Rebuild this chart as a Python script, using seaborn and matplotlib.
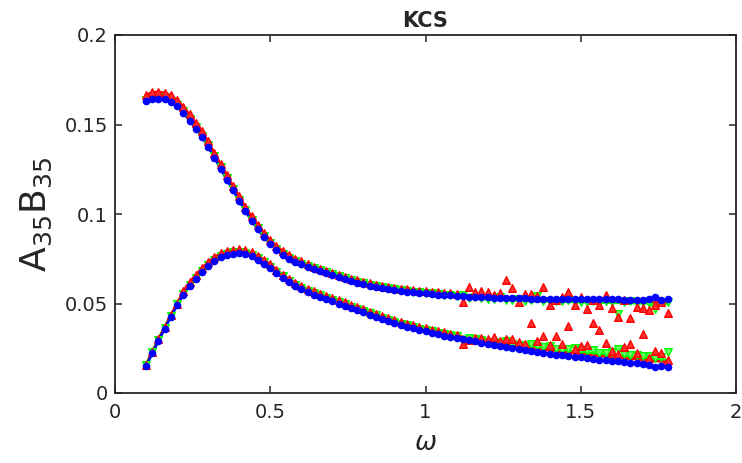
import matplotlib
matplotlib.use("Agg")
import matplotlib.pyplot as plt
import seaborn as sns
import numpy as np

# ---------------- data ----------------
omega = [0.10, 0.12, 0.14, 0.16, 0.18, 0.20, 0.22, 0.24, 0.26, 0.28,
         0.30, 0.32, 0.34, 0.36, 0.38, 0.40, 0.42, 0.44, 0.46, 0.48,
         0.50, 0.52, 0.54, 0.56, 0.58, 0.60, 0.62, 0.64, 0.66, 0.68,
         0.70, 0.72, 0.74, 0.76, 0.78, 0.80, 0.82, 0.84, 0.86, 0.88,
         0.90, 0.92, 0.94, 0.96, 0.98, 1.00, 1.02, 1.04, 1.06, 1.08,
         1.10, 1.12, 1.14, 1.16, 1.18, 1.20, 1.22, 1.24, 1.26, 1.28,
         1.30, 1.32, 1.34, 1.36, 1.38, 1.40, 1.42, 1.44, 1.46, 1.48,
         1.50, 1.52, 1.54, 1.56, 1.58, 1.60, 1.62, 1.64, 1.66, 1.68,
         1.70, 1.72, 1.74, 1.76, 1.78]

# upper curve, three solutions
blue_upper = [0.1630, 0.1642, 0.1645, 0.1640, 0.1626, 0.1602, 0.1565, 0.1522, 0.1477, 0.1430,
              0.1375, 0.1315, 0.1253, 0.1192, 0.1133, 0.1073, 0.1015, 0.0963, 0.0915, 0.0870,
              0.0832, 0.0800, 0.0772, 0.0750, 0.0732, 0.0718, 0.0705, 0.0693, 0.0681, 0.0669,
              0.0658, 0.0646, 0.0635, 0.0625, 0.0616, 0.0607, 0.0600, 0.0593, 0.0587, 0.0581,
              0.0576, 0.0571, 0.0567, 0.0563, 0.0559, 0.0556, 0.0553, 0.0550, 0.0547, 0.0545,
              0.0543, 0.0541, 0.0539, 0.0537, 0.0535, 0.0534, 0.0533, 0.0532, 0.0531, 0.0530,
              0.0529, 0.0528, 0.0527, 0.0527, 0.0526, 0.0526, 0.0525, 0.0525, 0.0524, 0.0524,
              0.0524, 0.0523, 0.0523, 0.0523, 0.0523, 0.0523, 0.0523, 0.0522, 0.0522, 0.0522,
              0.0522, 0.0523, 0.0536, 0.0522, 0.0523]
green_upper = [0.1636, 0.1648, 0.1651, 0.1646, 0.1633, 0.1609, 0.1573, 0.1530, 0.1485, 0.1438,
               0.1383, 0.1323, 0.1261, 0.1200, 0.1140, 0.1080, 0.1022, 0.0969, 0.0921, 0.0876,
               0.0837, 0.0805, 0.0777, 0.0755, 0.0737, 0.0722, 0.0709, 0.0697, 0.0685, 0.0674,
               0.0663, 0.0651, 0.0640, 0.0630, 0.0621, 0.0612, 0.0605, 0.0598, 0.0592, 0.0586,
               0.0581, 0.0576, 0.0571, 0.0567, 0.0563, 0.0560, 0.0557, 0.0554, 0.0550, 0.0546,
               0.0542, 0.0538, 0.0534, 0.0531, 0.0528, 0.0526, 0.0524, 0.0523, 0.0522, 0.0520,
               0.0519, 0.0518, 0.0517, 0.0516, 0.0515, 0.0514, 0.0513, 0.0512, 0.0512, 0.0511,
               0.0510, 0.0510, 0.0509, 0.0508, 0.0508, 0.0507, 0.0506, 0.0506, 0.0505, 0.0505,
               0.0504, 0.0504, 0.0503, 0.0503, 0.0502]
red_upper = [0.1667, 0.1679, 0.1682, 0.1677, 0.1663, 0.1639, 0.1600, 0.1556, 0.1510, 0.1462,
             0.1406, 0.1342, 0.1279, 0.1218, 0.1158, 0.1098, 0.1040, 0.0987, 0.0939, 0.0893,
             0.0854, 0.0822, 0.0794, 0.0771, 0.0751, 0.0735, 0.0719, 0.0706, 0.0694, 0.0682,
             0.0671, 0.0659, 0.0648, 0.0638, 0.0629, 0.0620, 0.0613, 0.0606, 0.0600, 0.0594,
             0.0588, 0.0583, 0.0579, 0.0575, 0.0571, 0.0568, 0.0565, 0.0562, 0.0559, 0.0556,
             0.0553, 0.0548, 0.0545, 0.0542, 0.0539, 0.0537, 0.0535, 0.0533, 0.0531, 0.0529,
             0.0528, 0.0527, 0.0525, 0.0524, 0.0523, 0.0522, 0.0521, 0.0520, 0.0519, 0.0518,
             0.0517, 0.0516, 0.0515, 0.0515, 0.0514, 0.0513, 0.0512, 0.0511, 0.0510, 0.0510,
             0.0509, 0.0508, 0.0508, 0.0507, 0.0506]

# lower curve
blue_lower = [0.0150, 0.0222, 0.0292, 0.0360, 0.0426, 0.0490, 0.0548, 0.0598, 0.0638, 0.0675,
              0.0710, 0.0738, 0.0758, 0.0772, 0.0779, 0.0780, 0.0775, 0.0763, 0.0745, 0.0722,
              0.0697, 0.0670, 0.0644, 0.0620, 0.0598, 0.0580, 0.0564, 0.0550, 0.0537, 0.0524,
              0.0512, 0.0500, 0.0488, 0.0475, 0.0462, 0.0450, 0.0437, 0.0425, 0.0413, 0.0402,
              0.0391, 0.0380, 0.0370, 0.0361, 0.0352, 0.0344, 0.0336, 0.0328, 0.0321, 0.0314,
              0.0307, 0.0300, 0.0294, 0.0288, 0.0282, 0.0276, 0.0270, 0.0264, 0.0258, 0.0252,
              0.0246, 0.0240, 0.0234, 0.0229, 0.0224, 0.0219, 0.0215, 0.0211, 0.0207, 0.0203,
              0.0199, 0.0195, 0.0191, 0.0187, 0.0183, 0.0179, 0.0176, 0.0172, 0.0169, 0.0166,
              0.0162, 0.0159, 0.0145, 0.0153, 0.0148]
green_lower = [0.0154, 0.0227, 0.0297, 0.0365, 0.0431, 0.0495, 0.0553, 0.0603, 0.0643, 0.0680,
               0.0715, 0.0744, 0.0764, 0.0778, 0.0786, 0.0788, 0.0783, 0.0771, 0.0753, 0.0730,
               0.0705, 0.0678, 0.0652, 0.0628, 0.0606, 0.0588, 0.0572, 0.0558, 0.0545, 0.0532,
               0.0520, 0.0508, 0.0496, 0.0483, 0.0470, 0.0458, 0.0445, 0.0433, 0.0421, 0.0410,
               0.0399, 0.0388, 0.0378, 0.0369, 0.0360, 0.0352, 0.0344, 0.0336, 0.0329, 0.0322,
               0.0316, 0.0311, 0.0306, 0.0301, 0.0296, 0.0291, 0.0286, 0.0281, 0.0276, 0.0271,
               0.0266, 0.0261, 0.0256, 0.0252, 0.0248, 0.0244, 0.0240, 0.0236, 0.0233, 0.0229,
               0.0226, 0.0222, 0.0219, 0.0216, 0.0212, 0.0209, 0.0206, 0.0203, 0.0200, 0.0197,
               0.0194, 0.0191, 0.0188, 0.0185, 0.0182]
red_lower = [0.0156, 0.0228, 0.0299, 0.0368, 0.0435, 0.0500, 0.0570, 0.0620, 0.0660, 0.0697,
             0.0732, 0.0760, 0.0780, 0.0794, 0.0801, 0.0803, 0.0797, 0.0785, 0.0767, 0.0744,
             0.0719, 0.0688, 0.0662, 0.0638, 0.0616, 0.0598, 0.0582, 0.0568, 0.0555, 0.0542,
             0.0530, 0.0518, 0.0506, 0.0493, 0.0480, 0.0468, 0.0455, 0.0443, 0.0431, 0.0420,
             0.0409, 0.0398, 0.0388, 0.0379, 0.0370, 0.0362, 0.0354, 0.0346, 0.0339, 0.0332,
             0.0325, 0.0313, 0.0307, 0.0301, 0.0295, 0.0290, 0.0284, 0.0278, 0.0273, 0.0267,
             0.0262, 0.0256, 0.0251, 0.0246, 0.0241, 0.0237, 0.0233, 0.0229, 0.0225, 0.0221,
             0.0218, 0.0214, 0.0210, 0.0207, 0.0203, 0.0200, 0.0197, 0.0194, 0.0191, 0.0188,
             0.0185, 0.0182, 0.0179, 0.0176, 0.0173]

# scattered sample points for omega >= 1.12 (index 51 onwards)
tail_start = 51
red_upper_tail = [0.0507, 0.0590, 0.0562, 0.0571, 0.0562, 0.0545, 0.0556, 0.0631, 0.0585, 0.0507,
                  0.0551, 0.0551, 0.0544, 0.0594, 0.0492, 0.0520, 0.0539, 0.0566, 0.0492, 0.0539,
                  0.0469, 0.0520, 0.0492, 0.0548, 0.0473, 0.0426, 0.0520, 0.0421, 0.0483, 0.0473,
                  0.0464, 0.0492, 0.0510, 0.0449]
green_upper_tail = [0.0546, 0.0530, 0.0534, 0.0528, 0.0524, 0.0526, 0.0535, 0.0520, 0.0518, 0.0524,
                    0.0515, 0.0518, 0.0540, 0.0514, 0.0511, 0.0516, 0.0512, 0.0522, 0.0508, 0.0510,
                    0.0506, 0.0512, 0.0505, 0.0515, 0.0507, 0.0440, 0.0510, 0.0516, 0.0504, 0.0506,
                    0.0502, 0.0472, 0.0506, 0.0510]
red_lower_tail = [0.0272, 0.0296, 0.0306, 0.0306, 0.0300, 0.0311, 0.0291, 0.0302, 0.0300, 0.0287,
                  0.0272, 0.0393, 0.0291, 0.0318, 0.0268, 0.0318, 0.0274, 0.0374, 0.0246, 0.0262,
                  0.0268, 0.0389, 0.0352, 0.0282, 0.0235, 0.0216, 0.0257, 0.0274, 0.0222, 0.0328,
                  0.0196, 0.0235, 0.0222, 0.0187]
green_lower_tail = [0.0285, 0.0310, 0.0300, 0.0296, 0.0287, 0.0283, 0.0278, 0.0290, 0.0272, 0.0268,
                    0.0261, 0.0272, 0.0262, 0.0255, 0.0260, 0.0247, 0.0243, 0.0246, 0.0250, 0.0238,
                    0.0232, 0.0240, 0.0226, 0.0222, 0.0230, 0.0246, 0.0216, 0.0212, 0.0210, 0.0205,
                    0.0204, 0.0196, 0.0200, 0.0231]

x_ticks = [0, 0.5, 1, 1.5, 2]
x_tick_labels = ["0", "0.5", "1", "1.5", "2"]
y_ticks = [0, 0.05, 0.1, 0.15, 0.2]
y_tick_labels = ["0", "0.05", "0.1", "0.15", "0.2"]

# ---------------- style ----------------
sns.set_style("ticks")
plt.rcParams["font.family"] = ["DejaVu Sans"]
plt.rcParams["mathtext.fontset"] = "dejavusans"

fig = plt.figure(figsize=(7.42, 4.63), dpi=100)
ax = fig.add_axes([115 / 742, 1 - 393 / 463, (736 - 115) / 742, (393 - 35) / 463])

RED, GREEN, BLUE = "#ff0000", "#00ff00", "#0000ff"

series = [
    (green_upper, green_upper[:tail_start] + green_upper_tail, GREEN, "#6cff6c", "v", 30, 2.6, 2.0),
    (green_lower, green_lower[:tail_start] + green_lower_tail, GREEN, "#6cff6c", "v", 30, 2.6, 2.0),
    (red_upper, red_upper[:tail_start] + red_upper_tail, RED, "#ff3030", "^", 30, 1.8, 2.1),
    (red_lower, red_lower[:tail_start] + red_lower_tail, RED, "#ff3030", "^", 30, 1.8, 2.1),
    (blue_upper, blue_upper, BLUE, BLUE, "o", 20, 1.8, 2.2),
    (blue_lower, blue_lower, BLUE, BLUE, "o", 20, 1.8, 2.2),
]

for line_vals, pts, col, face, mk, size, lw, z in series:
    sns.lineplot(x=omega, y=line_vals, color=col, linewidth=lw, ax=ax, zorder=z)
    sns.scatterplot(x=omega, y=pts, marker=mk, s=size, color=face, edgecolor=col,
                    linewidth=1.0, ax=ax, zorder=z + 1.0)

ax.set_xlim(0, 2)
ax.set_ylim(0, 0.2)
ax.set_xticks(x_ticks)
ax.set_xticklabels(x_tick_labels)
ax.set_yticks(y_ticks)
ax.set_yticklabels(y_tick_labels)

for s in ax.spines.values():
    s.set_visible(True)
    s.set_color("#262626")
    s.set_linewidth(1.3)

ax.tick_params(axis="both", which="both", direction="in", length=5, width=1.1,
               colors="#262626", labelsize=14, top=True, right=True,
               labeltop=False, labelright=False)
ax.tick_params(axis="x", pad=7)
ax.tick_params(axis="y", pad=5)

ax.set_title("KCS", fontsize=15, fontweight="bold", pad=6)
ax.set_xlabel(r"$\omega$", fontsize=19, color="#262626", labelpad=6)
ax.set_ylabel(r"A$_{35}$B$_{35}$", fontsize=26, color="#262626", labelpad=8)

fig.savefig("out.png", dpi=100)
